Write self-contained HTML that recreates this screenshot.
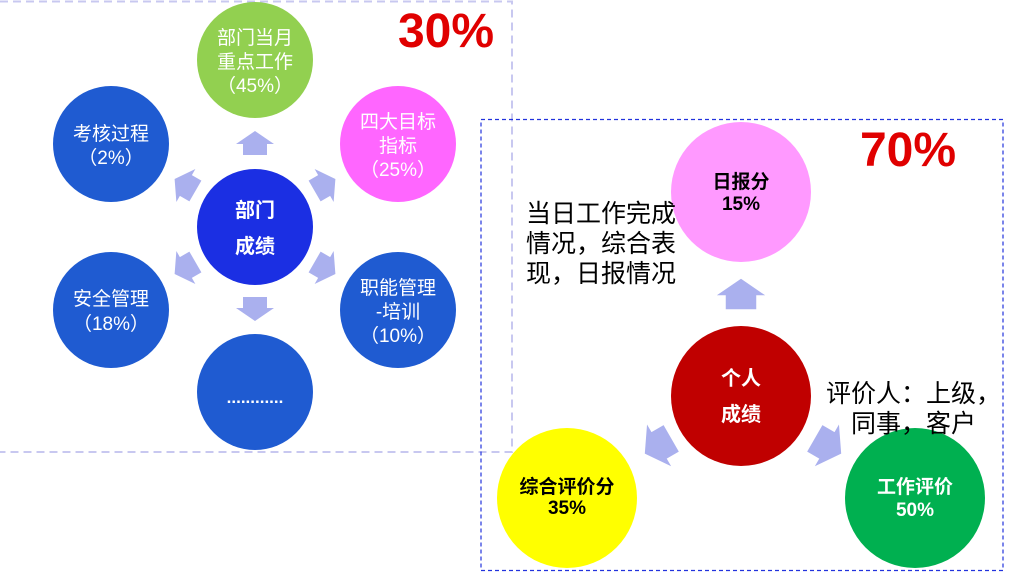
<!DOCTYPE html>
<html><head><meta charset="utf-8"><style>
html,body{margin:0;padding:0;background:#fff;}
svg{display:block;}
text{font-family:"Liberation Sans","Noto Sans CJK SC",sans-serif;}
</style></head><body>
<svg width="1010" height="573" viewBox="0 0 1010 573" xmlns="http://www.w3.org/2000/svg">
<defs>
<path id="ar" d="M0,-12 L19,1 L12,1 L12,12 L-12,12 L-12,1 L-19,1 Z" fill="#aab0ee"/>
</defs>
<path d="M0,1.5 H512 V452 H0" fill="none" stroke="#c8c8f0" stroke-width="2" stroke-dasharray="8,5"/>
<rect x="481" y="119.5" width="522" height="451" fill="none" stroke="#2233dd" stroke-width="1.2" stroke-dasharray="4,3"/>

<circle cx="255" cy="60" r="58" fill="#92d050"/>
<circle cx="111" cy="144" r="58" fill="#1f5bd1"/>
<circle cx="398" cy="144" r="58" fill="#ff66ff"/>
<circle cx="255" cy="227" r="58" fill="#1b2fe3"/>
<circle cx="111" cy="310" r="58" fill="#1f5bd1"/>
<circle cx="398" cy="310" r="58" fill="#1f5bd1"/>
<circle cx="255" cy="392" r="58" fill="#1f5bd1"/>

<use href="#ar" transform="translate(255,143)"/>
<use href="#ar" transform="translate(255,309) rotate(180)"/>
<use href="#ar" transform="translate(185,185) rotate(-60)"/>
<use href="#ar" transform="translate(325,185) rotate(60)"/>
<use href="#ar" transform="translate(185,268) rotate(-120)"/>
<use href="#ar" transform="translate(325,268) rotate(120)"/>

<g fill="#fff" font-size="19" text-anchor="middle">
<text x="255" y="44">部门当月</text>
<text x="255" y="68">重点工作</text>
<text x="255" y="92">（45%）</text>
<text x="111" y="140">考核过程</text>
<text x="111" y="164">（2%）</text>
<text x="398" y="128">四大目标</text>
<text x="398" y="152">指标</text>
<text x="398" y="176">（25%）</text>
<text x="111" y="305">安全管理</text>
<text x="111" y="330">（18%）</text>
<text x="398" y="294">职能管理</text>
<text x="398" y="318">-培训</text>
<text x="398" y="342">（10%）</text>
<text x="255" y="403" font-weight="bold" font-size="17">............</text>
<text x="255" y="217" font-size="20" font-weight="bold">部门</text>
<text x="255" y="253" font-size="20" font-weight="bold">成绩</text>
</g>
<text x="446" y="47" font-size="48" font-weight="bold" fill="#e00000" text-anchor="middle">30%</text>

<circle cx="741" cy="192" r="70" fill="#ff99ff"/>
<circle cx="741" cy="396" r="70" fill="#c00000"/>
<circle cx="567" cy="498" r="70" fill="#ffff00"/>
<circle cx="915" cy="498" r="70" fill="#00b050"/>
<use href="#ar" transform="translate(741,294) scale(1.27)"/>
<use href="#ar" transform="translate(658,446) scale(1.27) rotate(-120)"/>
<use href="#ar" transform="translate(828,446) scale(1.27) rotate(120)"/>

<g text-anchor="middle" font-weight="bold" font-size="19">
<text x="741" y="188" fill="#000">日报分</text>
<text x="741" y="210" fill="#000">15%</text>
<text x="567" y="493" fill="#000">综合评价分</text>
<text x="567" y="514" fill="#000">35%</text>
<text x="915" y="493" fill="#fff">工作评价</text>
<text x="915" y="516" fill="#fff">50%</text>
<text x="741" y="385" fill="#fff" font-size="20">个人</text>
<text x="741" y="421" fill="#fff" font-size="20">成绩</text>
</g>
<text x="908" y="166" font-size="48" font-weight="bold" fill="#e00000" text-anchor="middle">70%</text>
<g font-size="25" fill="#000">
<text x="526" y="222">当日工作完成</text>
<text x="526" y="252">情况，综合表</text>
<text x="526" y="282">现，日报情况</text>
<text x="826" y="402">评价人：上级，</text>
<text x="851" y="432">同事，客户</text>
</g>
</svg>
</body></html>
